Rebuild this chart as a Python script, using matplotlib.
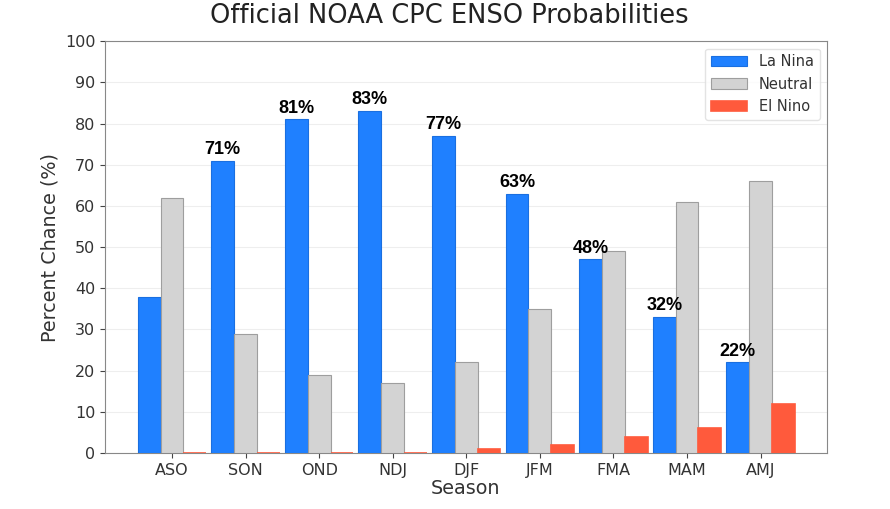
import numpy as np
import matplotlib.pyplot as plt

seasons = ["ASO", "SON", "OND", "NDJ", "DJF", "JFM", "FMA", "MAM", "AMJ"]
la_nina = [38, 71, 81, 83, 77, 63, 47, 33, 22]
neutral = [62, 29, 19, 17, 22, 35, 49, 61, 66]
el_nino = [0, 0, 0, 0, 1, 2, 4, 6, 12]
# annotated La Nina chances (none shown for ASO)
nina_labels = ["", "71%", "81%", "83%", "77%", "63%", "48%", "32%", "22%"]

fig = plt.figure(figsize=(8.9, 5.09), dpi=100)
ax = fig.add_axes([0.118, 0.110, 0.811, 0.809])

x = np.arange(len(seasons))
w = 0.31

ax.bar(x - w, la_nina, w, color="#1f80ff", edgecolor="#1a6fe0", linewidth=0.8, label="La Nina", zorder=3)
ax.bar(x, neutral, w, color="#d3d3d3", edgecolor="#9e9e9e", linewidth=0.8, label="Neutral", zorder=3)
ax.bar(x + w, el_nino, w, color="#ff5a3c", edgecolor="#ff5a3c", linewidth=1.2, label="El Nino", zorder=3)

for xi, v, lab in zip(x, la_nina, nina_labels):
    if lab:
        ax.annotate(lab, (xi - w, v), xytext=(0, 2), textcoords="offset points",
                    ha="center", va="bottom", fontsize=13, fontweight="bold",
                    family="Liberation Sans", color="black", zorder=4)

ax.set_xlim(-0.91, 8.9)
ax.set_ylim(0, 100)
ax.set_yticks(np.arange(0, 101, 10))
ax.set_xticks(x)
ax.set_xticklabels(seasons)
ax.tick_params(labelsize=11.5, colors="#444444", labelcolor="#333333")
ax.yaxis.grid(True, color="#eeeeee", linewidth=0.8, zorder=0)
for s in ax.spines.values():
    s.set_color("#888888")

ax.set_xlabel("Season", fontsize=13.8, color="#333333", labelpad=1)
ax.set_ylabel("Percent Chance (%)", fontsize=13.8, color="#333333")
fig.text(0.505, 0.968, "Official NOAA CPC ENSO Probabilities", fontsize=18.5,
         color="#222222", ha="center", va="center")

ax.legend(loc="upper right", fontsize=10.5, frameon=True, edgecolor="#dddddd",
          labelcolor="#333333", handlelength=2.5)

fig.savefig("out.png", dpi=100)
